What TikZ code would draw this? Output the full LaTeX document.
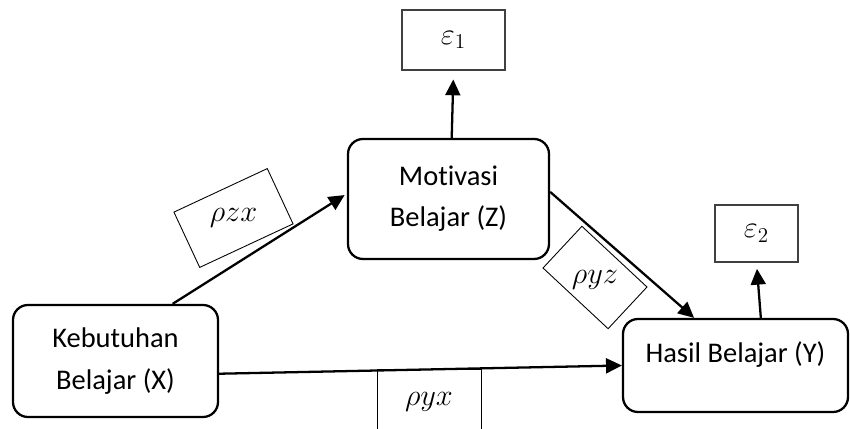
\documentclass[tikz,border=0pt]{standalone}
\usepackage{amsmath,amssymb}
\usepackage{fontspec}
\setmainfont{Carlito}[Ligatures=NoCommon]
\usepackage{tikz}
\usetikzlibrary{shapes, arrows.meta, positioning}

\begin{document}
\begin{tikzpicture}[>={Triangle[length=9pt,width=8.5pt]},
    varbox/.style={draw, rounded corners=0.3cm, line width=1.3pt, align=center, inner sep=0pt,
        font=\fontsize{16.2}{23.5}\selectfont},
    errbox/.style={draw=black!75, line width=0.8pt, inner sep=0pt, font=\fontsize{17}{20}\selectfont},
    coefbox/.style={draw, line width=0.5pt, inner sep=0pt},
    coeftext/.style={font=\fontsize{17}{20}\selectfont},
    link/.style={->, line width=1.3pt}]
    \useasboundingbox (0,0) rectangle (17,-8.58);

    % variabel
    \node[varbox, minimum width=4.1cm, minimum height=2.24cm] (X) at (2.31,-7.22) {Kebutuhan\\Belajar (X)};
    \node[varbox, minimum width=4.02cm, minimum height=2.4cm] (Z) at (8.97,-3.98) {Motivasi\\Belajar (Z)};
    \node[varbox, minimum width=4.5cm, minimum height=1.86cm, text height=11pt, text depth=14pt] (Y) at (14.71,-7.31) {Hasil Belajar (Y)};

    % galat
    \node[errbox, minimum width=2.06cm, minimum height=1.2cm] (e1) at (9.07,-0.80) {$\varepsilon_1$};
    \node[errbox, minimum width=1.66cm, minimum height=1.14cm] (e2) at (15.13,-4.67) {$\varepsilon_2$};

    % koefisien jalur
    \node[coefbox, rotate=25, minimum width=2.06cm, minimum height=1.22cm] (zxbox) at (4.67,-4.36) {};
    \node[coeftext] (zx) at (zxbox) {$\rho z x$};
    \node[coefbox, rotate=-43, minimum width=1.78cm, minimum height=1.14cm] (yzbox) at (11.9,-5.55) {};
    \node[coeftext, yshift=-0.05cm] (yz) at (yzbox) {$\rho y z$};
    \node[coefbox, minimum width=2.08cm, minimum height=1.32cm, coeftext] (yx) at (8.58,-8.04) {$\rho y x$};

    % panah
    \draw[link, shorten >=1.5pt] (X.45) -- (Z.177);
    \draw[link] (X.-7) -- (Y.west);
    \draw[link] (Z.4) -- (Y.131);
    \draw[link, shorten >=5pt] (Z.87) -- (e1.south);
    \draw[link, shorten >=3.5pt] (Y.62) -- (e2.south);
\end{tikzpicture}
\end{document}
